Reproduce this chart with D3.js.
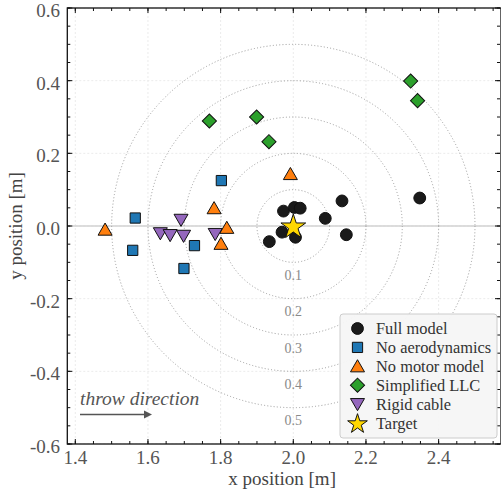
<!DOCTYPE html>
<html><head><meta charset="utf-8">
<script src="https://cdn.jsdelivr.net/npm/d3@7"></script>
<style>body{margin:0;background:#fff}svg{display:block}</style>
</head><body>
<svg id="c" width="501" height="492"></svg>
<script>
const fullX = [1.973, 2.003, 2.019, 2.134, 2.088, 1.969, 1.934, 2.006, 2.146, 2.348];
const fullY = [0.041, 0.051, 0.049, 0.069, 0.021, -0.017, -0.043, -0.031, -0.024, 0.077];
const noAeroX = [1.802, 1.565, 1.558, 1.728, 1.699];
const noAeroY = [0.125, 0.022, -0.067, -0.054, -0.117];
const noMotorX = [1.992, 1.482, 1.782, 1.817, 1.801];
const noMotorY = [0.143, -0.010, 0.049, -0.005, -0.049];
const llcX = [1.769, 1.899, 1.933, 2.323, 2.342];
const llcY = [0.289, 0.300, 0.232, 0.399, 0.345];
const rigidX = [1.691, 1.634, 1.661, 1.698, 1.785];
const rigidY = [0.017, -0.020, -0.025, -0.027, -0.022];
const targetX = [2.0], targetY = [0.0];
const radii = [0.1, 0.2, 0.3, 0.4, 0.5];
const xTicks = [1.4, 1.6, 1.8, 2.0, 2.2, 2.4];
const yTicks = [-0.6, -0.4, -0.2, 0.0, 0.2, 0.4, 0.6];
const legendLabels = ["Full model", "No aerodynamics", "No motor model", "Simplified LLC", "Rigid cable", "Target"];

const L = 67.3, R = 501, T = 8, B = 444;
const ppu = (B - T) / 1.2;
const x = d3.scaleLinear().domain([1.4 - (75.3 - L) / ppu, 1.4 + (R - 75.3) / ppu]).range([L, R]);
const y = d3.scaleLinear().domain([-0.6, 0.6]).range([B, T]);
const svg = d3.select("#c");
const font = "'Liberation Serif','DejaVu Serif',serif";

svg.append("defs").append("clipPath").attr("id", "clip")
  .append("rect").attr("x", L).attr("y", T).attr("width", R - L).attr("height", B - T);
const g = svg.append("g").attr("clip-path", "url(#clip)");

// grid
g.selectAll(".gx").data(xTicks).join("line")
  .attr("x1", d => x(d)).attr("x2", d => x(d)).attr("y1", T).attr("y2", B)
  .attr("stroke", "#ebebeb").attr("stroke-width", 1).attr("stroke-dasharray", "2,2");
g.selectAll(".gy").data(yTicks).join("line")
  .attr("x1", L).attr("x2", R).attr("y1", d => y(d)).attr("y2", d => y(d))
  .attr("stroke", "#ebebeb").attr("stroke-width", 1).attr("stroke-dasharray", "2,2");
// y=0 line
g.append("line").attr("x1", L).attr("x2", R).attr("y1", y(0)).attr("y2", y(0))
  .attr("stroke", "#d2d2d2").attr("stroke-width", 1.5);

// circles
g.selectAll(".ring").data(radii).join("circle")
  .attr("cx", x(2.0)).attr("cy", y(0)).attr("r", d => x(2.0 + d) - x(2.0))
  .attr("fill", "none").attr("stroke", "#9a9a9a").attr("stroke-width", 1).attr("stroke-dasharray", "1,2.2");
g.selectAll(".rlab").data(radii).join("text")
  .attr("x", x(2.0)).attr("y", d => y(-d - 0.035)).attr("dy", "0.35em")
  .attr("text-anchor", "middle").attr("font-family", font).attr("font-size", 14)
  .attr("fill", "#8a8a8a").text(d => d.toFixed(1));

// markers
const sym = {
  circle: d3.symbol().type(d3.symbolCircle).size(110),
  square: d3.symbol().type(d3.symbolSquare).size(105),
  tri: d3.symbol().type(d3.symbolTriangle).size(85),
  diamond: d3.symbol().type(d3.symbolSquare).size(100),
  star: d3.symbol().type(d3.symbolStar).size(190),
  starSmall: d3.symbol().type(d3.symbolStar).size(120)
};
function series(xs, ys, path, fill, rot, dy) {
  const pts = xs.map((v, i) => [v, ys[i]]);
  g.append("g").selectAll("path").data(pts).join("path")
    .attr("d", path)
    .attr("transform", d => `translate(${x(d[0])},${y(d[1]) + (dy || 0)}) rotate(${rot || 0})`)
    .attr("fill", fill).attr("stroke", "#111").attr("stroke-width", 1);
}
series(noAeroX, noAeroY, sym.square(), "#1f77b4");
series(noMotorX, noMotorY, sym.tri(), "#ff7f0e", 0, 1.5);
series(llcX, llcY, sym.diamond(), "#2ca02c", 45);
series(rigidX, rigidY, sym.tri(), "#9467bd", 180, -1.5);
series(fullX, fullY, sym.circle(), "#1a1a1a");
series(targetX, targetY, sym.star(), "#ffd700", 0, 1);

// throw direction
svg.append("text").attr("x", 80).attr("y", 405).attr("font-family", font)
  .attr("font-style", "italic").attr("font-size", 19.5).attr("fill", "#555").text("throw direction");
svg.append("line").attr("x1", 80).attr("x2", 145).attr("y1", 414.5).attr("y2", 414.5)
  .attr("stroke", "#555").attr("stroke-width", 1.6);
svg.append("path").attr("d", "M144,410.5 L152,414.5 L144,418.5 Z").attr("fill", "#555");

// axes spines and ticks
const ax = svg.append("g");
ax.append("rect").attr("x", L).attr("y", T).attr("width", R - L).attr("height", B - T)
  .attr("fill", "none").attr("stroke", "#111").attr("stroke-width", 1.3);
const minorX = d3.range(28).map(i => +(1.4 + i * 0.05 - 0.05).toFixed(2)).filter(v => x(v) >= L && x(v) <= R);
const minorY = d3.range(25).map(i => +(-0.6 + i * 0.05).toFixed(2));
function ticks(vals, len) {
  vals.forEach(v => {
    const px = x(v);
    ax.append("line").attr("x1", px).attr("x2", px).attr("y1", B).attr("y2", B - len).attr("stroke", "#111");
    ax.append("line").attr("x1", px).attr("x2", px).attr("y1", T).attr("y2", T + len).attr("stroke", "#111");
  });
}
ticks(minorX, 3);
ticks(xTicks, 5);
function yt(vals, len) {
  vals.forEach(v => {
    const py = y(v);
    ax.append("line").attr("x1", L).attr("x2", L + len).attr("y1", py).attr("y2", py).attr("stroke", "#111");
    ax.append("line").attr("x1", R - 1).attr("x2", R - 1 - len).attr("y1", py).attr("y2", py).attr("stroke", "#111");
  });
}
yt(minorY, 3);
yt(yTicks, 5);

ax.selectAll(".xl").data(xTicks).join("text")
  .attr("x", d => x(d)).attr("y", 464).attr("text-anchor", "middle")
  .attr("font-family", font).attr("font-size", 19).attr("fill", "#555").text(d => d.toFixed(1));
ax.selectAll(".yl").data(yTicks).join("text")
  .attr("x", 60).attr("y", d => y(d) + 9).attr("text-anchor", "end")
  .attr("font-family", font).attr("font-size", 19).attr("fill", "#555").text(d => d.toFixed(1));

svg.append("text").attr("x", (L + R) / 2 - 2).attr("y", 485).attr("text-anchor", "middle")
  .attr("font-family", font).attr("font-size", 19).attr("fill", "#444").text("x position [m]");
svg.append("text").attr("transform", `translate(22,${(T + B) / 2}) rotate(-90)`).attr("text-anchor", "middle")
  .attr("font-family", font).attr("font-size", 19).attr("fill", "#444").text("y position [m]");

// legend
const lg = svg.append("g");
lg.append("rect").attr("x", 340).attr("y", 314).attr("width", 157).attr("height", 124).attr("rx", 3)
  .attr("fill", "#f6f6f6").attr("fill-opacity", 0.95).attr("stroke", "#cccccc").attr("stroke-width", 1);
const legSyms = [
  [sym.circle(), "#1a1a1a", 0, 0], [sym.square(), "#1f77b4", 0, 0], [sym.tri(), "#ff7f0e", 0, 1.5],
  [sym.diamond(), "#2ca02c", 45, 0], [sym.tri(), "#9467bd", 180, -1.5], [sym.starSmall(), "#ffd700", 0, 1]
];
legendLabels.forEach((t, i) => {
  const cy = 328.5 + i * 18.9;
  lg.append("path").attr("d", legSyms[i][0]).attr("fill", legSyms[i][1]).attr("stroke", "#111")
    .attr("transform", `translate(357.5,${cy + legSyms[i][3]}) rotate(${legSyms[i][2]})`);
  lg.append("text").attr("x", 376).attr("y", cy).attr("dy", "0.35em").attr("font-family", font)
    .attr("font-size", 16.4).attr("fill", "#333").text(t);
});
</script>
</body></html>
